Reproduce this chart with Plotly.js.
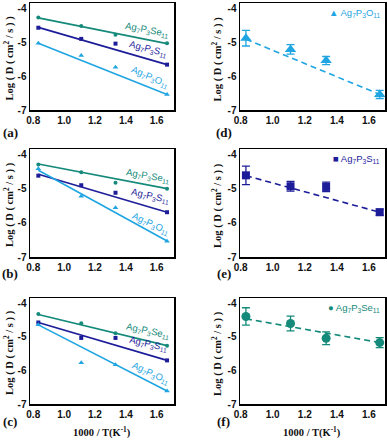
<!DOCTYPE html>
<html>
<head>
<meta charset="utf-8">
<script src="https://cdn.plot.ly/plotly-3.0.1.min.js"></script>
<style>html,body{margin:0;padding:0;background:#fff}#chart{width:387px;height:440px}</style>
</head>
<body>
<div id="chart"></div>
<script>
// ---- data ----
const invT = [0.833, 1.111, 1.333, 1.667];
const fitX = [0.833, 1.667];

const aSe = [-4.27, -4.52, -4.78, -5.03];
const aS  = [-4.57, -4.90, -5.04, -5.66];
const aO  = [-5.03, -5.39, -5.74, -6.54];
const aSeFit = [-4.28, -5.04];
const aSFit  = [-4.56, -5.66];
const aOFit  = [-5.03, -6.54];

const bSe = [-4.29, -4.52, -4.83, -5.00];
const bS  = [-4.62, -4.90, -5.12, -5.69];
const bO  = [-4.42, -5.22, -5.56, -6.54];
const bSeFit = [-4.28, -5.00];
const bSFit  = [-4.58, -5.69];
const bOFit  = [-4.46, -6.53];

const cSe = [-4.32, -4.59, -4.89, -5.26];
const cS  = [-4.57, -5.03, -5.03, -5.70];
const cO  = [-4.64, -5.77, -5.83, -6.61];
const cSeFit = [-4.33, -5.26];
const cSFit  = [-4.57, -5.70];
const cOFit  = [-4.64, -6.61];

const dO = [-4.88, -5.21, -5.54, -6.54];
const dOErr = [0.23, 0.14, 0.12, 0.12];
const dOFit = [-4.91, -6.54];

const eS = [-4.61, -4.93, -4.95, -5.69];
const eSErr = [0.27, 0.14, 0.14, 0.09];
const eSFit = [-4.62, -5.69];

const fSe = [-4.39, -4.60, -5.04, -5.17];
const fSeErr = [0.26, 0.22, 0.19, 0.15];
const fSeFit = [-4.46, -5.17];

const xTicks = [0.8, 1.0, 1.2, 1.4, 1.6];
const xTickText = ['0.8', '1.0', '1.2', '1.4', '1.6'];
const yTicks = [-4, -5, -6, -7];
const yTickText = ['-4', '-5', '-6', '-7'];

const nameSe = 'Ag<sub>7</sub>P<sub>3</sub>Se<sub>11</sub>';
const nameS  = 'Ag<sub>7</sub>P<sub>3</sub>S<sub>11</sub>';
const nameO  = 'Ag<sub>7</sub>P<sub>3</sub>O<sub>11</sub>';
const panelLetters = ['(a)', '(b)', '(c)', '(d)', '(e)', '(f)'];
const yTitle = 'Log ( D ( cm<sup>2</sup> / s ) )';
const xTitle = '1000 / T(K<sup>-1</sup>)';

// ---- styles ----
const cSeCol = '#158a7a';
const cSCol  = '#1d1d9a';
const cOCol  = '#1fa5e2';
const W = 387, H = 440;

const traces = [];
function small(ax, x, y, col, sym, sz) {
  traces.push({x, y, xaxis: 'x' + ax, yaxis: 'y' + ax, mode: 'markers', type: 'scatter',
    marker: {color: col, symbol: sym, size: sz}, showlegend: false, hoverinfo: 'skip'});
}
function fit(ax, x, y, col, dash) {
  traces.push({x, y, xaxis: 'x' + ax, yaxis: 'y' + ax, mode: 'lines', type: 'scatter',
    line: {color: col, width: 1.6, dash: dash || 'solid'}, showlegend: false, hoverinfo: 'skip'});
}
function errPts(ax, x, y, e, col, sym, sz) {
  traces.push({x, y, xaxis: 'x' + ax, yaxis: 'y' + ax, mode: 'markers', type: 'scatter',
    marker: {color: col, symbol: sym, size: sz},
    error_y: {type: 'data', array: e, visible: true, color: col, thickness: 1.3, width: 4},
    showlegend: false, hoverinfo: 'skip'});
}

const axSuffix = ['', '2', '3', '4', '5', '6'];
// panel a,b,c
[[aSe, aS, aO, aSeFit, aSFit, aOFit], [bSe, bS, bO, bSeFit, bSFit, bOFit], [cSe, cS, cO, cSeFit, cSFit, cOFit]].forEach((p, i) => {
  const ax = axSuffix[i];
  fit(ax, fitX, p[3], cSeCol);
  fit(ax, fitX, p[4], cSCol);
  fit(ax, fitX, p[5], cOCol);
  small(ax, invT, p[0], cSeCol, 'circle', 4);
  small(ax, invT, p[1], cSCol, 'square', 4);
  small(ax, invT, p[2], cOCol, 'triangle-up', 5);
});
fit('4', fitX, dOFit, cOCol, '6px,4px');
errPts('4', invT, dO, dOErr, cOCol, 'triangle-up', 10);
fit('5', fitX, eSFit, cSCol, '6px,4px');
errPts('5', invT, eS, eSErr, cSCol, 'square', 8);
fit('6', fitX, fSeFit, cSeCol, '6px,4px');
errPts('6', invT, fSe, fSeErr, cSeCol, 'circle', 9);

// pixel frames [left, right, top, bottom]
const frames = [
  [30, 174, 3, 110], [30, 174, 149, 257], [30, 174, 298, 404],
  [240, 385, 3, 110], [240, 385, 149, 257], [240, 385, 298, 404]
];
const tickFont = {family: 'Arial, Liberation Sans', size: 10, color: '#111', weight: 'bold'};
const layout = {
  width: W, height: H, margin: {l: 0, r: 0, t: 0, b: 0},
  paper_bgcolor: '#fff', plot_bgcolor: '#fff', showlegend: false,
  annotations: []
};
frames.forEach((f, i) => {
  const s = axSuffix[i];
  const left = i < 3;
  layout['xaxis' + s] = {
    domain: [f[0] / W, f[1] / W], anchor: 'y' + s,
    range: left ? [0.779, 1.712] : [0.796, 1.700],
    tickvals: xTicks, ticktext: xTickText, ticks: '', tickfont: tickFont,
    showgrid: false, zeroline: false, showline: true, mirror: true, linecolor: '#000', linewidth: 1.5
  };
  layout['yaxis' + s] = {
    domain: [1 - f[3] / H, 1 - f[2] / H], anchor: 'x' + s,
    range: [-7, -3.84],
    tickvals: yTicks, ticktext: yTickText, ticks: '', tickfont: tickFont,
    showgrid: false, zeroline: false, showline: true, mirror: true, linecolor: '#000', linewidth: 1.5
  };
  // y title
  layout.annotations.push({
    xref: 'paper', yref: 'paper', x: (left ? 9 : 217) / W, y: 1 - ((f[2] + f[3]) / 2 + 2) / H,
    text: yTitle, textangle: -90, showarrow: false, xanchor: 'center', yanchor: 'middle',
    font: {family: 'Times New Roman, Liberation Serif', size: 10.5, color: '#111', weight: 'bold'}
  });
  // panel letter
  const letterY = [132, 273, 421][i % 3];
  layout.annotations.push({
    xref: 'paper', yref: 'paper', x: (left ? 10 : 224) / W, y: 1 - letterY / H,
    text: panelLetters[i], showarrow: false, xanchor: 'center', yanchor: 'middle',
    font: {family: 'Times New Roman, Liberation Serif', size: 13, color: '#111', weight: 'bold'}
  });
});
// x titles
[[102, 432], [312, 432]].forEach(p => {
  layout.annotations.push({
    xref: 'paper', yref: 'paper', x: p[0] / W, y: 1 - p[1] / H,
    text: xTitle, showarrow: false, xanchor: 'center', yanchor: 'middle',
    font: {family: 'Times New Roman, Liberation Serif', size: 10.5, color: '#111', weight: 'bold'}
  });
});
// in-plot curve labels (a)-(c)
const lblFont = c => ({family: 'Arial, Liberation Sans', size: 9.5, color: c});
const curveLabels = [
  // [axis suffix, x, y, text, color, angle]
  ['', 1.540, -4.64, nameSe, cSeCol, 11],
  ['', 1.548, -5.19, nameS, cSCol, 15],
  ['', 1.555, -6.04, nameO, cOCol, 24],
  ['2', 1.545, -4.62, nameSe, cSeCol, 10],
  ['2', 1.560, -5.22, nameS, cSCol, 13],
  ['2', 1.565, -6.02, nameO, cOCol, 25],
  ['3', 1.545, -4.82, nameSe, cSeCol, 12],
  ['3', 1.548, -5.22, nameS, cSCol, 13],
  ['3', 1.560, -6.07, nameO, cOCol, 25]
];
curveLabels.forEach(l => {
  layout.annotations.push({
    xref: 'x' + l[0], yref: 'y' + l[0], x: l[1], y: l[2], text: l[3], textangle: l[5],
    showarrow: false, xanchor: 'center', yanchor: 'middle', font: lblFont(l[4])
  });
});
// legends (d)-(f)
const legends = [['4', '\u25B2 ' + nameO, cOCol], ['5', '\u25A0 ' + nameS, cSCol], ['6', '\u25CF ' + nameSe, cSeCol]];
legends.forEach(l => {
  layout.annotations.push({
    xref: 'x' + l[0] + ' domain', yref: 'y' + l[0] + ' domain', x: 0.98, y: 0.985,
    text: l[1], showarrow: false, xanchor: 'right', yanchor: 'top', font: lblFont(l[2])
  });
});

Plotly.newPlot('chart', traces, layout, {staticPlot: true, displayModeBar: false});
</script>
</body>
</html>
